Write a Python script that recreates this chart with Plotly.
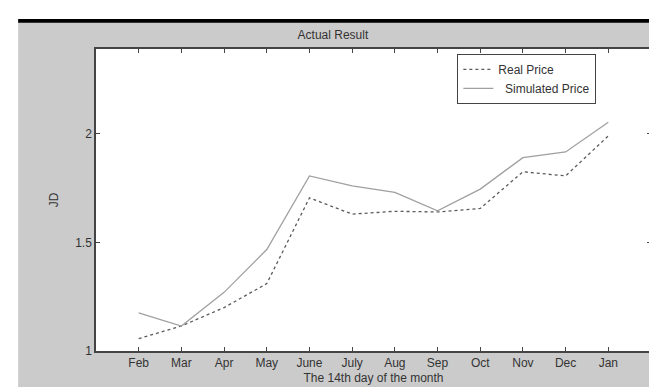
import plotly.graph_objects as go

months = ["Feb", "Mar", "Apr", "May", "June", "July", "Aug", "Sep", "Oct", "Nov", "Dec", "Jan"]
real_price = [1.057, 1.115, 1.20, 1.31, 1.705, 1.63, 1.643, 1.64, 1.656, 1.825, 1.806, 1.99]
simulated_price = [1.176, 1.115, 1.27, 1.467, 1.806, 1.76, 1.73, 1.645, 1.745, 1.89, 1.916, 2.053]
y_ticks = [1, 1.5, 2]

xpos = list(range(1, len(months) + 1))

fig = go.Figure()
fig.add_trace(go.Scatter(x=xpos, y=real_price, mode="lines", name="Real Price",
                         line=dict(color="#5a5a5a", width=1.3, dash="3px,3px")))
fig.add_trace(go.Scatter(x=xpos, y=simulated_price, mode="lines", name="  Simulated Price",
                         line=dict(color="#a0a0a0", width=1.3)))

L, R, T, B = 88, 13, 41, 30
W, H = 657, 387
pw, ph = W - L - R, H - T - B
def px(x): return (x - L) / pw
def py(y): return (H - B - y) / ph

font = dict(family="Liberation Sans, Arial", size=12, color="#333333")
fig.update_layout(
    width=W, height=H,
    margin=dict(l=L, r=R, t=T, b=B),
    paper_bgcolor="#cbcbcb", plot_bgcolor="white",
    font=font,
    title=dict(text="Actual Result", x=px(363), xanchor="center", y=1 - 27 / H, yanchor="middle",
               font=dict(size=12, color="#333333")),
    showlegend=True,
    legend=dict(x=px(450), y=py(46), xanchor="left", yanchor="top",
                bgcolor="white", bordercolor="#444444", borderwidth=1,
                font=dict(size=12, color="#333333"), tracegroupgap=0,
                itemwidth=30),
    shapes=[
        dict(type="rect", xref="paper", yref="paper", x0=px(-5), x1=px(700), y0=py(10), y1=py(-5),
             fillcolor="white", line=dict(width=0), layer="above"),
        dict(type="rect", xref="paper", yref="paper", x0=px(-5), x1=px(10), y0=py(400), y1=py(-5),
             fillcolor="white", line=dict(width=0), layer="above"),
        dict(type="rect", xref="paper", yref="paper", x0=px(10), x1=px(700), y0=py(13.5), y1=py(9.5),
             fillcolor="black", line=dict(width=0), layer="above"),
    ],
)
fig.update_xaxes(range=[0, 13], tickvals=xpos, ticktext=months, ticks="inside", ticklen=4,
                 tickcolor="#444444", showline=True, linecolor="#444444", linewidth=1.5,
                 mirror="ticks", showgrid=False, zeroline=False,
                 title=dict(text="The 14th day of the month", standoff=4, font=font),
                 tickfont=font)
fig.update_yaxes(range=[1, 2.39], tickvals=y_ticks, ticktext=["1", "1.5", "2"], ticks="inside", ticklen=4,
                 tickcolor="#444444", showline=True, linecolor="#444444", linewidth=1.5,
                 mirror="ticks", showgrid=False, zeroline=False,
                 title=dict(text="JD", standoff=14, font=font), tickfont=font)

fig.write_html("out.html")
